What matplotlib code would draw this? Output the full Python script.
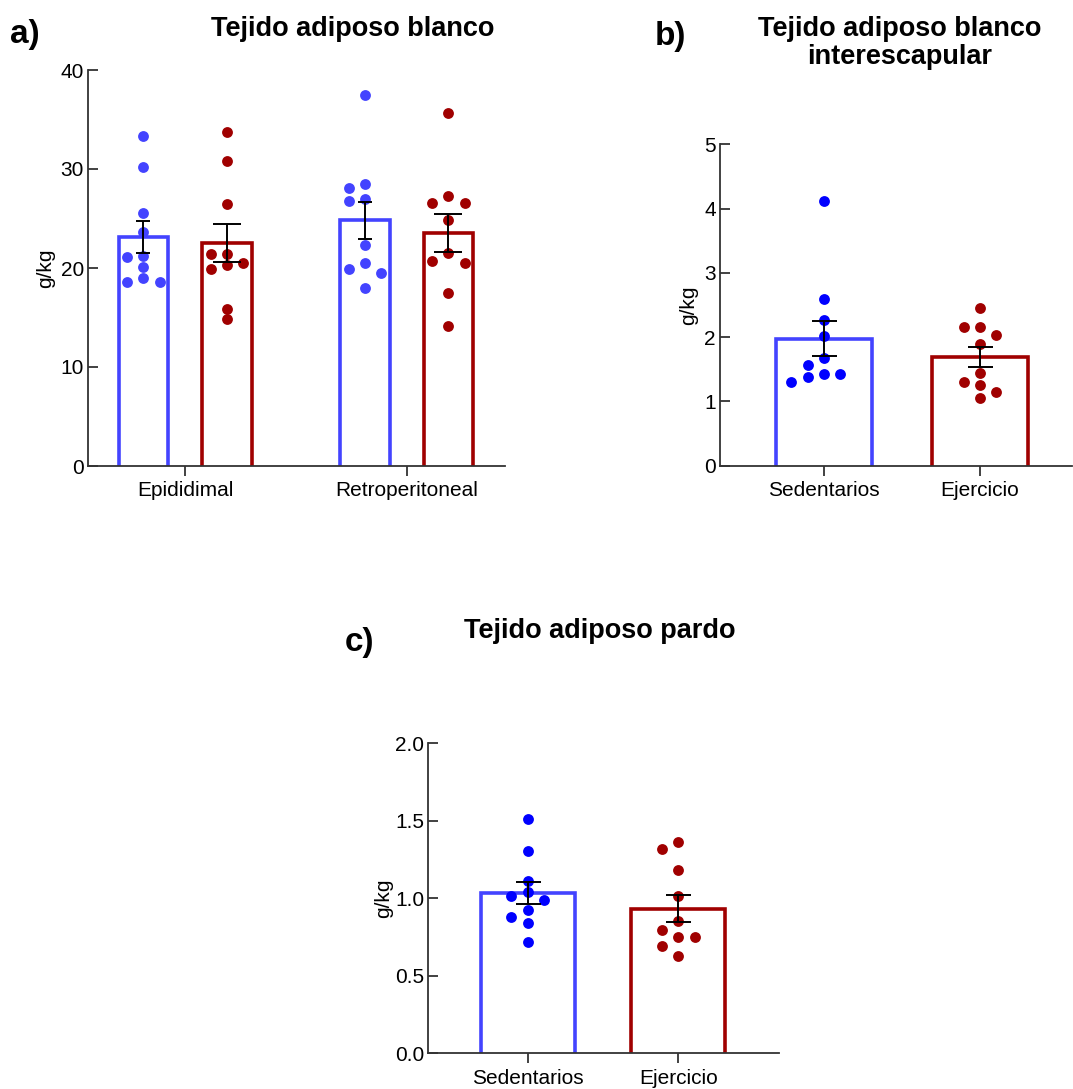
import numpy as np
import matplotlib
matplotlib.use("Agg")
import matplotlib.pyplot as plt

plt.rcParams.update({"font.family": ["Liberation Sans", "DejaVu Sans"],
                     "font.size": 15})

# ---- data (g/kg) ---------------------------------------------------------
A_GROUPS = ["Epididimal", "Retroperitoneal"]
A_SED = [[33.3, 30.2, 25.6, 23.6, 21.2, 21.1, 20.1, 19.0, 18.6, 18.6],
         [37.5, 28.5, 28.1, 27.0, 26.8, 22.3, 20.5, 19.9, 19.5, 18.0]]
A_EJE = [[33.7, 30.8, 26.5, 21.4, 21.4, 20.5, 20.3, 19.9, 15.9, 14.8],
         [35.7, 27.3, 26.6, 26.6, 24.8, 21.5, 20.7, 20.5, 17.5, 14.1]]

BC_LABELS = ["Sedentarios", "Ejercicio"]
B_SED = [4.12, 2.59, 2.27, 2.01, 1.67, 1.56, 1.42, 1.42, 1.38, 1.30]
B_EJE = [2.45, 2.16, 2.15, 2.04, 1.89, 1.44, 1.30, 1.26, 1.15, 1.06]
C_SED = [1.514, 1.303, 1.114, 1.041, 1.013, 0.991, 0.925, 0.881, 0.841, 0.716]
C_EJE = [1.363, 1.316, 1.181, 1.017, 0.852, 0.796, 0.748, 0.748, 0.694, 0.626]

BLUE = "#4343ff"
BLUE_PT = "#0000ff"
RED = "#a00000"
AX_COL = "#333333"

W, H = 1073, 1089
fig = plt.figure(figsize=(W / 100, H / 100), dpi=100)


def px_axes(x0, x1, y_top, y_bot):
    return fig.add_axes([x0 / W, 1 - y_bot / H, (x1 - x0) / W, (y_bot - y_top) / H])


def style(ax, ymax, step, fmt, lpad=4):
    for s in ("top", "right"):
        ax.spines[s].set_visible(False)
    for s in ("left", "bottom"):
        ax.spines[s].set_color(AX_COL)
        ax.spines[s].set_linewidth(1.3)
    ax.set_ylim(0, ymax)
    ticks = np.arange(0, ymax + step / 2, step)
    ax.set_yticks(ticks)
    ax.set_yticklabels([fmt.format(t) for t in ticks])
    ax.tick_params(axis="y", direction="in", length=7, width=1.3, pad=3, color=AX_COL)
    ax.tick_params(axis="x", direction="out", length=7, width=1.3, pad=4, color=AX_COL)
    ax.set_ylabel("g/kg", fontsize=15, labelpad=lpad)


def swarm(ax, vals, step_px=16.3, diam=10.5):
    vals = np.asarray(vals, float)
    ypx = ax.transData.transform(np.column_stack([np.zeros(len(vals)), vals]))[:, 1]
    x0 = ax.transData.transform((0, 0))[0]
    x1 = ax.transData.transform((1, 0))[0]
    placed, offs = [], np.zeros(len(vals))
    for i in np.argsort(-vals, kind="stable"):
        for k in (0, -1, 1, -2, 2, -3, 3):
            if all(np.hypot(k * step_px - ox, ypx[i] - oy) >= diam for ox, oy in placed):
                break
        placed.append((k * step_px, ypx[i]))
        offs[i] = k * step_px
    return offs / (x1 - x0)


def bar(ax, x, vals, width, color, ptcol, cap):
    vals = np.asarray(vals, float)
    m = vals.mean()
    sem = vals.std(ddof=1) / np.sqrt(len(vals))
    ax.bar(x, m, width, color="white", linewidth=0, zorder=1)
    ax.plot([x - width / 2, x - width / 2, x + width / 2, x + width / 2], [0, m, m, 0],
            color=color, lw=2.6, solid_joinstyle="miter", zorder=2)
    ax.plot(x + swarm(ax, vals), vals, "o", ms=7.8, color=ptcol, mec="none", zorder=3)
    ax.errorbar(x, m, yerr=sem, fmt="none", ecolor="black", elinewidth=1.4,
                capsize=cap, capthick=1.4, zorder=4)


# ---- a) -------------------------------------------------------------------
ax = px_axes(88, 505, 70, 466)
ax.set_xlim(-0.439, 1.444)
style(ax, 40, 10, "{:.0f}")
for i in range(len(A_GROUPS)):
    bar(ax, i - 0.1888, A_SED[i], 0.2236, BLUE, BLUE, 5)
    bar(ax, i + 0.1888, A_EJE[i], 0.2236, RED, RED, 10)
ax.set_xticks(range(len(A_GROUPS)))
ax.set_xticklabels(A_GROUPS)

# ---- b) -------------------------------------------------------------------
ax = px_axes(720, 1072, 144.3, 465.7)
ax.set_xlim(-0.667, 1.59)
style(ax, 5, 1, "{:.0f}")
bar(ax, 0, B_SED, 0.619, BLUE, BLUE_PT, 9)
bar(ax, 1, B_EJE, 0.619, RED, RED, 9)
ax.set_xticks([0, 1])
ax.set_xticklabels(BC_LABELS)

# ---- c) -------------------------------------------------------------------
ax = px_axes(428.3, 779, 743.3, 1053.3)
ax.set_xlim(-0.66, 1.668)
style(ax, 2.0, 0.5, "{:.1f}", lpad=1)
bar(ax, 0, C_SED, 0.624, BLUE, BLUE_PT, 9)
bar(ax, 1, C_EJE, 0.624, RED, RED, 9)
ax.set_xticks([0, 1])
ax.set_xticklabels(BC_LABELS)

# ---- titles and panel letters ----------------------------------------------
fig.text(10 / W, 1 - 34 / H, "a)", fontsize=24, weight="bold", va="center")
fig.text(353 / W, 1 - 29 / H, "Tejido adiposo blanco", fontsize=19.5,
         weight="bold", ha="center", va="center")
fig.text(655 / W, 1 - 36 / H, "b)", fontsize=24, weight="bold", va="center")
fig.text(900 / W, 1 - 16 / H, "Tejido adiposo blanco\ninterescapular", fontsize=19.5,
         weight="bold", ha="center", va="top", linespacing=1.12)
fig.text(345 / W, 1 - 643 / H, "c)", fontsize=24, weight="bold", va="center")
fig.text(600 / W, 1 - 631 / H, "Tejido adiposo pardo", fontsize=19.5,
         weight="bold", ha="center", va="center")

fig.savefig("out.png", dpi=100, facecolor="white")
